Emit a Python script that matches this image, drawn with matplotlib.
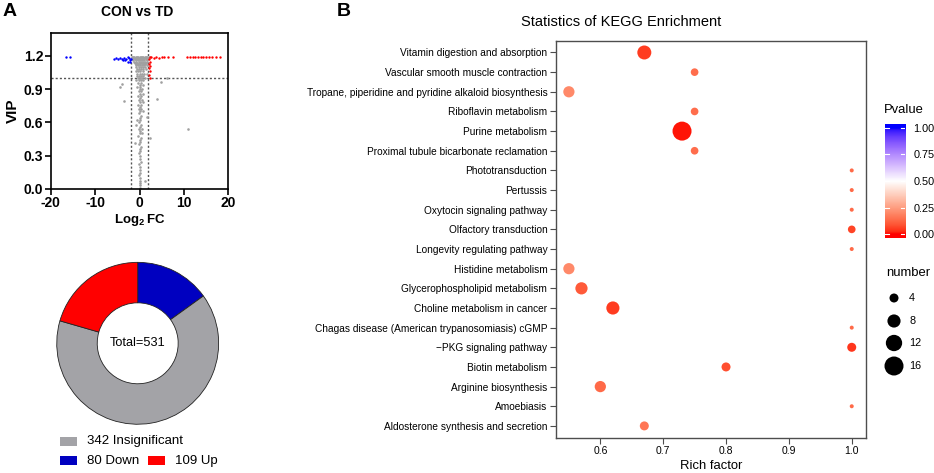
import numpy as np
import matplotlib
matplotlib.use("Agg")
import matplotlib.pyplot as plt
from matplotlib.colors import ListedColormap
from matplotlib.patches import Rectangle

plt.rcParams['font.family'] = ['Liberation Sans', 'DejaVu Sans']
plt.rcParams['mathtext.fontset'] = 'custom'
plt.rcParams['mathtext.rm'] = 'Liberation Sans'
plt.rcParams['mathtext.bf'] = 'Liberation Sans:bold'
plt.rcParams['axes.unicode_minus'] = False

# ---------------- data: volcano ----------------
grey_fc = [-1.8,-1.5,-1.2,-0.9,-0.6,-0.3,0,0.3,0.6,0.9,1.2,1.5,1.8,2.1,
           -1.7,-1.3,-0.9,-0.5,-0.1,0.3,0.7,1.1,1.5,1.9,
           -1.6,-1.1,-0.6,-0.1,0.4,0.9,1.4,1.9,
           -1.4,-0.9,-0.4,0.1,0.6,1.1,1.6,
           -1.2,-0.7,-0.2,0.3,0.8,1.3,1.8,
           -1.0,-0.5,0,0.5,1.0,1.5,
           -0.8,-0.3,0.2,0.7,1.2,
           -0.9,-0.4,0.1,0.6,1.1,1.6,
           -0.7,-0.2,0.3,0.8,1.3,
           -0.6,-0.1,0.4,0.9,1.4,
           -0.8,-0.3,0.2,0.7,
           -0.5,0,0.5,1.0,1.7,
           -0.6,-0.1,0.4,0.9,
           -0.4,0.1,0.6,1.2,
           -0.7,-0.2,0.3,0.8,
           -0.3,0.4, 0.0,0.7, -0.5,0.2, 0.1,0.6, -0.2,0.4, 0.0,0.8, -0.4,0.3,
           0.1, -0.1,0.5, 0.2,0.9, -0.3,0.4, 0.0, 0.3,-0.2, 0.1,0.7, -0.1,
           0.4,1.6, 0.0, 0.2,-0.6, -0.2, 0.3,-0.8, 0.1, -0.1,0.5, 0.2, 0.0,0.6,
           -0.3, 0.3,2.4, 0.0, 0.2, -1.0, -0.1, 0.3, 0.0, 0.2, -0.2, 0.1, 0.0,
           0.3, -0.1, 0.2, 0.0, 0.1, -0.1, 0.2, 1.2,0.0, 0.1, 0.0, 0.1,
           -4.0,-4.4,-3.5,6.1,4.85,3.9,10.9]
grey_vip = [1.19]*14 + [1.18]*10 + [1.17]*8 + [1.16]*7 + [1.15]*7 + [1.14]*6 + \
           [1.13]*5 + [1.12]*6 + [1.10]*5 + [1.08]*5 + [1.06]*4 + [1.04]*5 + \
           [1.02]*4 + [1.00]*4 + [0.98]*4 + \
           [0.96,0.96,0.94,0.94,0.92,0.92,0.90,0.90,0.88,0.88,0.86,0.86,0.84,0.84,
            0.82,0.80,0.80,0.78,0.78,0.76,0.76,0.74,0.72,0.72,0.70,0.70,0.68,
            0.66,0.645,0.64,0.62,0.62,0.60,0.58,0.58,0.56,0.54,0.54,0.52,0.50,0.50,
            0.48,0.46,0.46,0.44,0.42,0.41,0.40,0.38,0.36,0.34,0.32,0.30,0.27,
            0.24,0.22,0.20,0.17,0.14,0.12,0.10,0.07,0.07,0.05,0.03,0.01,
            0.95,0.92,0.79,1.00,0.966,0.808,0.544]
down_fc = [-16.6,-15.6,-5.7,-5.2,-4.8,-4.4,-4.0,-3.6,-3.3,-3.0,-2.7,-2.4,-2.2,-2.0,-2.1,-2.5,-3.8]
down_vip = [1.19,1.19,1.17,1.18,1.17,1.18,1.17,1.18,1.16,1.17,1.15,1.18,1.16,1.17,1.15,1.19,1.16]
up_fc = [2.3,2.2,2.3,2.2,2.3,2.2,2.3,2.2,2.3,
         2.7,3.2,3.7,4.3,5.0,5.6,6.5,7.6,
         10.8,11.4,12.0,12.6,13.2,13.8,14.4,15.0,15.7,16.4,17.2,18.2]
up_vip = [1.19,1.17,1.15,1.13,1.11,1.09,1.06,1.03,1.00,
          1.19,1.18,1.19,1.18,1.19,1.19,1.19,1.19,
          1.19,1.19,1.19,1.19,1.19,1.19,1.19,1.19,1.19,1.19,1.19,1.19]

# ---------------- data: donut ----------------
donut_labels = ['80 Down', '342 Insignificant', '109 Up']
donut_counts = [80, 342, 109]
donut_colors = ['#0000C0', '#A3A3A7', '#FF0000']
total_count = 531

# ---------------- data: KEGG ----------------
pathways = ['Vitamin digestion and absorption',
            'Vascular smooth muscle contraction',
            'Tropane, piperidine and pyridine alkaloid biosynthesis',
            'Riboflavin metabolism',
            'Purine metabolism',
            'Proximal tubule bicarbonate reclamation',
            'Phototransduction',
            'Pertussis',
            'Oxytocin signaling pathway',
            'Olfactory transduction',
            'Longevity regulating pathway',
            'Histidine metabolism',
            'Glycerophospholipid metabolism',
            'Choline metabolism in cancer',
            'Chagas disease (American trypanosomiasis) cGMP',
            '\u2212PKG signaling pathway',
            'Biotin metabolism',
            'Arginine biosynthesis',
            'Amoebiasis',
            'Aldosterone synthesis and secretion']
rich_factor = [0.67, 0.75, 0.55, 0.75, 0.73, 0.75, 1.0, 1.0, 1.0, 1.0,
               1.0, 0.55, 0.57, 0.62, 1.0, 1.0, 0.80, 0.60, 1.0, 0.67]
gene_number = [9, 3, 6, 3, 16, 3, 1, 1, 1, 3,
               1, 6, 7, 8, 1, 4, 4, 6, 1, 4]
pvalue = [0.05, 0.14, 0.20, 0.14, 0.01, 0.14, 0.13, 0.13, 0.13, 0.06,
          0.13, 0.20, 0.10, 0.05, 0.13, 0.04, 0.08, 0.13, 0.13, 0.16]
size_breaks = [4, 8, 12, 16]
pv_ticks = [0.0, 0.25, 0.5, 0.75, 1.0]

# ---------------- colour map (Lab interpolation like ggplot gradient2) ----------------
def srgb_to_lab(c):
    c = np.asarray(c, float)
    lin = np.where(c <= 0.04045, c / 12.92, ((c + 0.055) / 1.055) ** 2.4)
    M = np.array([[0.4124, 0.3576, 0.1805], [0.2126, 0.7152, 0.0722], [0.0193, 0.1192, 0.9505]])
    xyz = M @ lin / np.array([0.95047, 1.0, 1.08883])
    f = np.where(xyz > 0.008856, np.cbrt(xyz), 7.787 * xyz + 16 / 116)
    return np.array([116 * f[1] - 16, 500 * (f[0] - f[1]), 200 * (f[1] - f[2])])

def lab_to_srgb(lab):
    L, a, b = lab
    fy = (L + 16) / 116
    fx = fy + a / 500
    fz = fy - b / 200
    f = np.array([fx, fy, fz])
    xyz = np.where(f ** 3 > 0.008856, f ** 3, (f - 16 / 116) / 7.787) * np.array([0.95047, 1.0, 1.08883])
    Mi = np.array([[3.2406, -1.5372, -0.4986], [-0.9689, 1.8758, 0.0415], [0.0557, -0.2040, 1.0570]])
    lin = np.clip(Mi @ xyz, 0, 1)
    c = np.where(lin <= 0.0031308, 12.92 * lin, 1.055 * lin ** (1 / 2.4) - 0.055)
    return np.clip(c, 0, 1)

lab_r = srgb_to_lab([1, 0, 0]); lab_w = srgb_to_lab([1, 1, 1]); lab_b = srgb_to_lab([0, 0, 1])
cols = []
for t in np.linspace(0, 1, 256):
    if t <= 0.5:
        u = t / 0.5
        lab = lab_r + (lab_w - lab_r) * u
    else:
        u = (t - 0.5) / 0.5
        lab = lab_w + (lab_b - lab_w) * u
    cols.append(lab_to_srgb(lab))
cmap = ListedColormap(cols)

def num_to_s(n):
    d_px = 5 * np.sqrt(np.asarray(n, float)) - 1
    return (d_px * 0.72) ** 2

# ---------------- figure ----------------
fig = plt.figure(figsize=(9.34, 4.73), dpi=100)
W, H = 934, 473
def box(l, t, r, b):
    return [l / W, 1 - b / H, (r - l) / W, (b - t) / H]

# ----- Panel A: volcano -----
axv = fig.add_axes(box(50.7, 33.3, 228.3, 188.7))
axv.scatter(grey_fc, grey_vip, s=3.5, c='#A0A0A0', linewidths=0, zorder=2)
axv.scatter(down_fc, down_vip, s=3, c='#0000FF', linewidths=0, zorder=3)
axv.scatter(up_fc, up_vip, s=3, c='#FF0000', linewidths=0, zorder=3)
for xv in (-2, 2):
    axv.axvline(xv, color='#555555', lw=1.0, ls=(0, (1.5, 1.5)), zorder=1)
axv.axhline(1.0, color='#555555', lw=1.0, ls=(0, (1.5, 1.5)), zorder=1)
axv.set_xlim(-20, 20)
axv.set_ylim(0, 1.405)
axv.set_xticks([-20, -10, 0, 10, 20])
axv.set_yticks([0, 0.3, 0.6, 0.9, 1.2])
axv.set_yticklabels(['0.0', '0.3', '0.6', '0.9', '1.2'])
for sp in axv.spines.values():
    sp.set_linewidth(1.2)
axv.tick_params(width=1.2, length=4, labelsize=10, pad=1.5)
for lab in axv.get_xticklabels() + axv.get_yticklabels():
    lab.set_fontweight('bold')
axv.set_ylabel('VIP', fontsize=11, fontweight='bold', labelpad=3)
axv.set_xlabel(r'$\mathbf{Log_2\,FC}$', fontsize=9.5, labelpad=1)
fig.text(137.5 / W, 1 - 12.5 / H, 'CON vs TD', fontsize=10, fontweight='bold', ha='center', va='center')
fig.text(3 / W, 1 - 12 / H, 'A', fontsize=14, fontweight='bold', ha='left', va='center')
fig.text(337 / W, 1 - 12 / H, 'B', fontsize=14, fontweight='bold', ha='left', va='center')

# ----- donut -----
axd = fig.add_axes(box(137.7 - 85, 343.3 - 85, 137.7 + 85, 343.3 + 85))
axd.pie(donut_counts, colors=donut_colors, startangle=90, counterclock=False,
        radius=1.0, wedgeprops=dict(width=0.5, edgecolor='#222222', linewidth=0.6))
axd.set_xlim(-1.05, 1.05)
axd.set_ylim(-1.05, 1.05)
axd.set_aspect('equal')
axd.axis('off')
axd.text(0, 0, 'Total=%d' % total_count, ha='center', va='center', fontsize=9.2)

# donut legend (order: Insignificant, Down, Up)
leg_items = [(1, 60, 441), (0, 60, 460.5), (2, 148.3, 460.5)]
for idx, lx, ly in leg_items:
    fig.patches.append(Rectangle((lx / W, 1 - (ly + 4.5) / H), 16.7 / W, 9 / H,
                                 transform=fig.transFigure, facecolor=donut_colors[idx],
                                 edgecolor='none'))
    fig.text((lx + 27) / W, 1 - ly / H, donut_labels[idx], fontsize=9.5, ha='left', va='center')

# ----- Panel B: KEGG bubble -----
axk = fig.add_axes(box(555.7, 40.7, 866, 437.7))
n = len(pathways)
ypos = np.arange(n)[::-1]
axk.scatter(rich_factor, ypos, s=num_to_s(gene_number), c=pvalue, cmap=cmap,
            vmin=0, vmax=1, linewidths=0, zorder=3)
axk.set_ylim(-0.6, n - 1 + 0.6)
axk.set_xlim(0.529, 1.0227)
axk.set_yticks(ypos)
axk.set_yticklabels(pathways, fontsize=7.3)
axk.set_xticks([0.6, 0.7, 0.8, 0.9, 1.0])
axk.set_xticklabels(['0.6', '0.7', '0.8', '0.9', '1.0'], fontsize=7.5)
for sp in axk.spines.values():
    sp.set_color('#4D4D4D')
    sp.set_linewidth(1.0)
axk.tick_params(color='#4D4D4D', length=4, width=0.8, pad=2)
axk.set_xlabel('Rich factor', fontsize=9.4, labelpad=3)
fig.text(621 / W, 1 - 22 / H, 'Statistics of KEGG Enrichment', fontsize=10.5, ha='center', va='center')

# colourbar
axc = fig.add_axes(box(885, 124, 905, 238))
lo, hi = -0.035, 1.035
grad = np.linspace(lo, hi, 256).reshape(-1, 1)
axc.imshow(grad, cmap=cmap, vmin=0, vmax=1, aspect='auto', origin='lower',
           extent=[0, 1, lo, hi])
axc.set_xlim(0, 1)
axc.set_ylim(lo, hi)
for sp in axc.spines.values():
    sp.set_visible(False)
axc.set_xticks([])
axc.yaxis.tick_right()
axc.set_yticks(pv_ticks)
axc.set_yticklabels(['%.2f' % v for v in pv_ticks], fontsize=7.8)
axc.tick_params(axis='y', length=0, pad=6)
for v in pv_ticks:
    axc.plot([0, 0.2], [v, v], color='white', lw=0.8)
    axc.plot([0.8, 1], [v, v], color='white', lw=0.8)
fig.text(904 / W, 1 - 110 / H, 'Pvalue', fontsize=9.4, ha='center', va='center')

# size legend
fig.text(886 / W, 1 - 273 / H, 'number', fontsize=9.4, ha='left', va='center')
axs = fig.add_axes(box(880, 285, 934, 380))
axs.set_xlim(880, 934)
axs.set_ylim(380, 285)
axs.axis('off')
leg_y = [298, 321, 343, 366]
axs.scatter([894] * len(size_breaks), leg_y, s=num_to_s(size_breaks), c='black', linewidths=0)
for b, yy in zip(size_breaks, leg_y):
    axs.text(909, yy, str(b), fontsize=7.8, ha='left', va='center')

fig.savefig('out.png', dpi=100)
